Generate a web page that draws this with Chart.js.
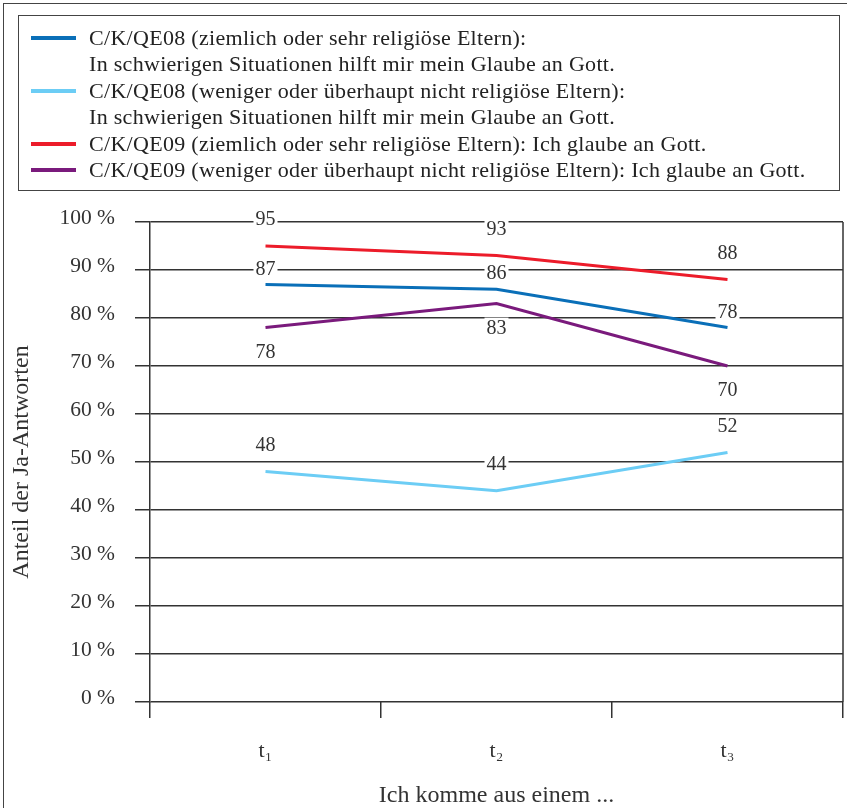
<!DOCTYPE html>
<html>
<head>
<meta charset="utf-8">
<script src="https://cdn.jsdelivr.net/npm/chart.js@4/dist/chart.umd.min.js"></script>
<style>
  html, body { margin: 0; padding: 0; background: #fff; overflow: hidden; }
  #wrap { position: relative; width: 847px; height: 808px; overflow: hidden; }
  #frame { position: absolute; left: 3px; top: 3px; width: 1000px; height: 1000px; border: 1.5px solid #444; }
  #legend {
    position: absolute; left: 18px; top: 15px; width: 822px; height: 176px;
    border: 1.5px solid #444; box-sizing: border-box;
    font-family: "Liberation Serif", serif; font-size: 22px; letter-spacing: 0.3px; color: #222;
    padding-top: 9px;
  }
  .row { position: relative; height: 26.4px; line-height: 26.4px; padding-left: 70px; white-space: nowrap; }
  .swatch { position: absolute; left: 12px; top: 11px; width: 45px; height: 4px; }
  canvas { position: absolute; left: 0; top: 0; }
</style>
</head>
<body>
<div id="wrap">
  <div id="frame"></div>
  <canvas id="chart" width="847" height="808"></canvas>
  <div id="legend"></div>
</div>
<script>
// =====================
// Data
// =====================

const categories = ['t\u2081', 't\u2082', 't\u2083'];
const yTickLabels = ['0 %', '10 %', '20 %', '30 %', '40 %', '50 %', '60 %', '70 %', '80 %', '90 %', '100 %'];

const religiousHelp = [87, 86, 78];
const nonReligiousHelp = [48, 44, 52];
const religiousBelieve = [95, 93, 88];
const nonReligiousBelieve = [78, 83, 70];

const seriesNames = [
  ['C/K/QE08 (ziemlich oder sehr religiöse Eltern):', 'In schwierigen Situationen hilft mir mein Glaube an Gott.'],
  ['C/K/QE08 (weniger oder überhaupt nicht religiöse Eltern):', 'In schwierigen Situationen hilft mir mein Glaube an Gott.'],
  ['C/K/QE09 (ziemlich oder sehr religiöse Eltern): Ich glaube an Gott.'],
  ['C/K/QE09 (weniger oder überhaupt nicht religiöse Eltern): Ich glaube an Gott.']
];
const seriesColors = ['#0a6fb8', '#6ccdf5', '#ec1c2a', '#7a1a7c'];

const FONT = '"Liberation Serif", serif';
const INK = '#333333';

// =====================
// Legend (HTML)
// =====================

const legendEl = document.getElementById('legend');
seriesNames.forEach((lines, i) => {
  lines.forEach((line, k) => {
    const row = document.createElement('div');
    row.className = 'row';
    row.textContent = line;
    if (k === 0) {
      const sw = document.createElement('span');
      sw.className = 'swatch';
      sw.style.background = seriesColors[i];
      row.appendChild(sw);
    }
    legendEl.appendChild(row);
  });
});

// =====================
// Value labels + right border
// =====================

const valueLabels = {
  id: 'valueLabels',
  afterDatasetsDraw(chart) {
    const ctx = chart.ctx;
    const area = chart.chartArea;
    ctx.save();

    // right frame of the plot
    ctx.strokeStyle = INK;
    ctx.lineWidth = 1.5;
    ctx.beginPath();
    ctx.moveTo(area.right, area.top);
    ctx.lineTo(area.right, area.bottom);
    ctx.stroke();

    ctx.font = '20px ' + FONT;
    ctx.textAlign = 'center';
    ctx.textBaseline = 'middle';
    chart.data.datasets.forEach((ds, i) => {
      const meta = chart.getDatasetMeta(i);
      meta.data.forEach((pt, j) => {
        const txt = String(ds.data[j]);
        const y = pt.y + ds.labelShift;
        const w = ctx.measureText(txt).width + 4;
        ctx.fillStyle = '#fff';
        ctx.fillRect(pt.x - w / 2, y - 10, w, 20);
        ctx.fillStyle = INK;
        ctx.fillText(txt, pt.x, y + 1);
      });
    });
    ctx.restore();
  }
};

// =====================
// Chart
// =====================

Chart.defaults.font.family = FONT;
Chart.defaults.color = INK;

new Chart(document.getElementById('chart'), {
  type: 'line',
  data: {
    labels: categories,
    datasets: [
      { data: religiousHelp, borderColor: seriesColors[0], labelShift: -16 },
      { data: nonReligiousHelp, borderColor: seriesColors[1], labelShift: -27 },
      { data: religiousBelieve, borderColor: seriesColors[2], labelShift: -27 },
      { data: nonReligiousBelieve, borderColor: seriesColors[3], labelShift: 24 }
    ].map(ds => Object.assign(ds, { borderWidth: 3, pointRadius: 0, tension: 0, fill: false }))
  },
  options: {
    responsive: false,
    animation: false,
    layout: { padding: { top: 222, right: 4, left: 0, bottom: 0 } },
    plugins: {
      legend: { display: false },
      tooltip: { enabled: false }
    },
    scales: {
      x: {
        offset: true,
        grid: { offset: true, drawOnChartArea: false, tickLength: 16, color: INK, lineWidth: 1.5 },
        border: { display: false },
        ticks: { padding: 20, font: { size: 22 }, color: INK },
        title: { display: true, text: 'Ich komme aus einem ...', font: { size: 24, lineHeight: 1 }, color: INK, padding: 0 },
        afterFit(scale) { scale.height = 106; }
      },
      y: {
        min: 0,
        max: 100,
        ticks: {
          stepSize: 10,
          padding: 20,
          labelOffset: -4,
          font: { size: 21.5 },
          color: INK,
          callback: (v, i) => yTickLabels[i]
        },
        grid: { tickLength: 15, color: INK, lineWidth: 1.5 },
        border: { color: INK, width: 1.5 },
        title: { display: true, text: 'Anteil der Ja-Antworten', font: { size: 24, lineHeight: 1 }, color: INK, padding: { top: 10, bottom: 0 } },
        afterFit(scale) { scale.width = 150; }
      }
    }
  },
  plugins: [valueLabels]
});
</script>
</body>
</html>
